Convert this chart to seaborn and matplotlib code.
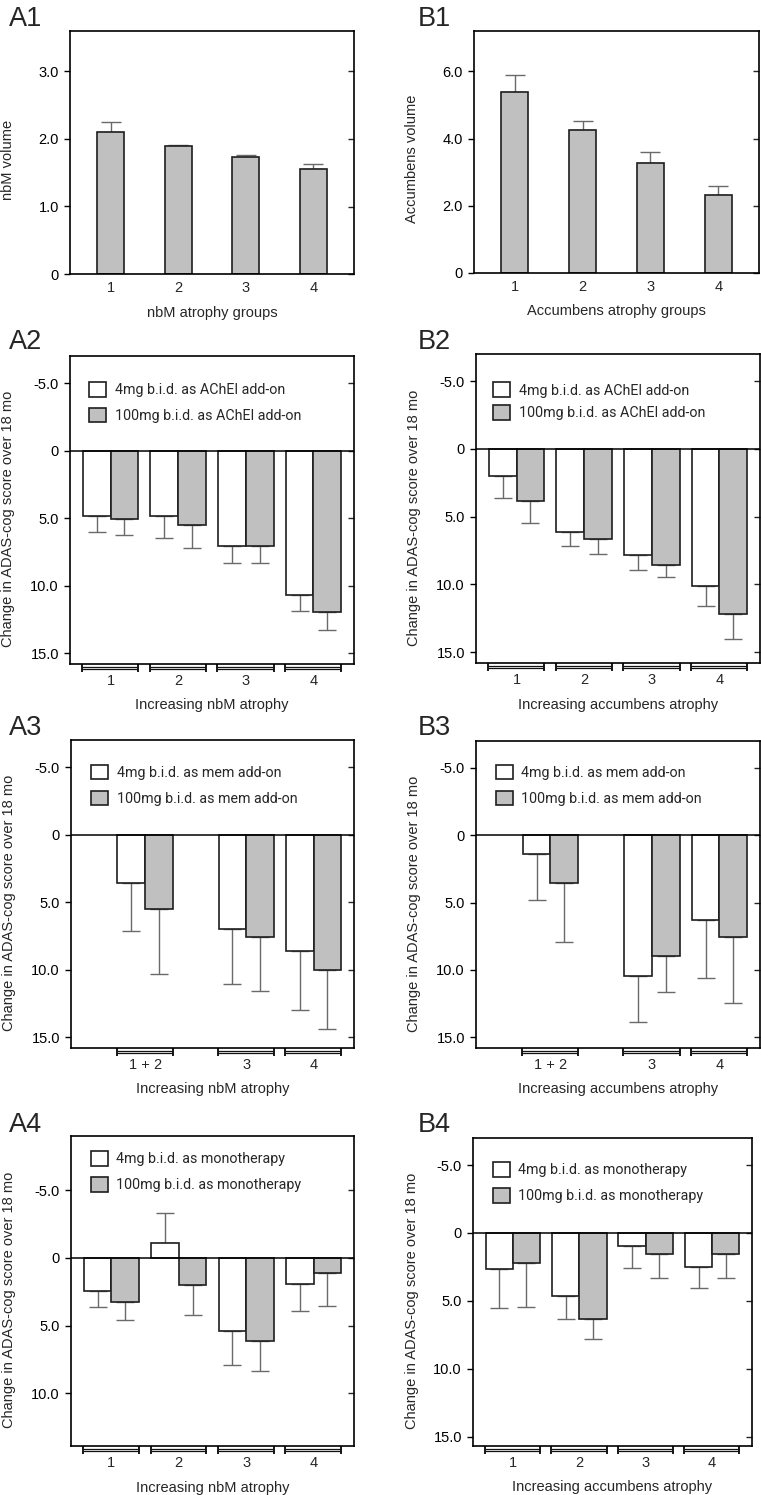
import numpy as np
import pandas as pd
import matplotlib
matplotlib.use("Agg")
import matplotlib.pyplot as plt
import seaborn as sns
from matplotlib.transforms import ScaledTranslation
from matplotlib.patches import Patch

sns.set_style("white")
plt.rcParams['font.family'] = ['Liberation Sans', 'DejaVu Sans']

# ---------------- data ----------------
vol_groups = ["1", "2", "3", "4"]
nbm_volume = [2.10, 1.89, 1.74, 1.55]
nbm_volume_err = [0.15, 0.02, 0.02, 0.08]
acc_volume = [5.39, 4.24, 3.26, 2.32]
acc_volume_err = [0.49, 0.28, 0.33, 0.27]

groups4 = ["1", "2", "3", "4"]
groups3 = ["1 + 2", "3", "4"]

# A2 / B2 : AChEI add-on
a2_low = [4.81, 4.88, 7.06, 10.68]
a2_low_err = [1.21, 1.58, 1.27, 1.16]
a2_high = [5.05, 5.49, 7.04, 11.94]
a2_high_err = [1.21, 1.74, 1.26, 1.36]
b2_low = [2.02, 6.11, 7.83, 10.12]
b2_low_err = [1.60, 1.08, 1.14, 1.46]
b2_high = [3.84, 6.65, 8.57, 12.19]
b2_high_err = [1.65, 1.08, 0.89, 1.85]

# A3 / B3 : memantine add-on
a3_low = [3.62, 7.02, 8.65]
a3_low_err = [3.50, 4.01, 4.33]
a3_high = [5.54, 7.56, 10.02]
a3_high_err = [4.76, 4.04, 4.41]
b3_low = [1.38, 10.47, 6.33]
b3_low_err = [3.45, 3.37, 4.24]
b3_high = [3.57, 8.97, 7.54]
b3_high_err = [4.34, 2.66, 4.95]

# A4 / B4 : monotherapy
a4_low = [2.46, -1.11, 5.41, 1.94]
a4_low_err = [1.18, 2.21, 2.48, 1.97]
a4_high = [3.24, 1.99, 6.14, 1.11]
a4_high_err = [1.35, 2.24, 2.21, 2.48]
b4_low = [2.65, 4.64, 0.96, 2.53]
b4_low_err = [2.88, 1.67, 1.60, 1.50]
b4_high = [2.24, 6.31, 1.57, 1.55]
b4_high_err = [3.24, 1.53, 1.72, 1.77]

leg_ache = ["4mg b.i.d. as AChEI add-on", "100mg b.i.d. as AChEI add-on"]
leg_mem = ["4mg b.i.d. as mem add-on", "100mg b.i.d. as mem add-on"]
leg_mono = ["4mg b.i.d. as monotherapy", "100mg b.i.d. as monotherapy"]

# ---------------- style ----------------
GRAY = "#c0c0c0"
EDGE = "#1e1e1e"
ERR = "#6a6a6a"
TICK_FS = 10.5
LABEL_FS = 10.5
LEG_FONT = "Roboto"
LEG_FS = 10.3
W, H = 761, 1495

fig = plt.figure(figsize=(W / 100, H / 100), dpi=100)


def px_shift(dy_px):
    return ScaledTranslation(0, -dy_px / 100, fig.dpi_scale_trans)


def add_ax(left, right, top, bottom):
    return fig.add_axes([left / W, 1 - bottom / H, (right - left) / W, (bottom - top) / H])


def style_axes(ax, ylim, yticks, yticklabels, ylabel, xlabel, xpad, xlabel_y):
    ax.set_ylim(*ylim)
    ax.set_yticks(yticks, yticklabels)
    for s in ax.spines.values():
        s.set_visible(True)
        s.set_color("black")
        s.set_linewidth(1.2)
    ax.tick_params(axis="y", direction="out", length=4, width=1, pad=4,
                   labelsize=TICK_FS, left=True, colors="black")
    ax.tick_params(axis="x", length=0, pad=xpad, labelsize=TICK_FS)
    sec = ax.secondary_yaxis("right")
    sec.set_yticks(yticks)
    sec.tick_params(direction="in", length=4, width=1, labelright=False)
    sec.spines["right"].set_visible(False)
    ax.set_ylabel(ylabel, fontsize=LABEL_FS)
    ax.yaxis.set_label_coords(-0.193, 0.47)
    ax.set_xlabel(xlabel, fontsize=LABEL_FS)
    ax.xaxis.set_label_coords(0.5, xlabel_y)


def volume_panel(ax, cats, vals, errs, ylim, yticks, yticklabels, ylabel, xlabel):
    pos = np.arange(1, len(cats) + 1)
    sns.barplot(x=pos, y=vals, native_scale=True, width=0.4, color=GRAY,
                saturation=1, errorbar=None, edgecolor=EDGE, linewidth=1.2, ax=ax)
    patches = sorted(ax.patches, key=lambda p: p.get_x())
    xs = [p.get_x() + p.get_width() / 2 for p in patches]
    ax.errorbar(xs, vals, yerr=[np.zeros(len(vals)), errs], fmt="none",
                ecolor=ERR, elinewidth=1, capsize=7.5, capthick=1, zorder=0.5)
    ax.set_xticks(pos, cats)
    ax.set_xlim(0.4, 4.6)
    style_axes(ax, ylim, yticks, yticklabels, ylabel, xlabel, 5, -0.13)


def paired_panel(ax, cats, pos, low, low_err, high, high_err, labels, ylim, yticks,
                 yticklabels, xlabel, leg_anchor, leg_spacing, xlabel_y=-0.112):
    n = len(cats)
    df = pd.DataFrame({"pos": list(pos) * 2, "val": list(low) + list(high),
                       "dose": [labels[0]] * n + [labels[1]] * n})
    sns.barplot(data=df, x="pos", y="val", hue="dose", hue_order=labels,
                palette=["white", GRAY], native_scale=True, width=0.82,
                errorbar=None, saturation=1, edgecolor=EDGE, linewidth=1.2,
                legend=False, ax=ax)
    for cont, vals, errs in zip(ax.containers, [low, high], [low_err, high_err]):
        ps = sorted(cont.patches, key=lambda p: p.get_x())
        xs = [p.get_x() + p.get_width() / 2 for p in ps]
        lower = [e if v < 0 else 0 for v, e in zip(vals, errs)]
        upper = [e if v >= 0 else 0 for v, e in zip(vals, errs)]
        ax.errorbar(xs, vals, yerr=[lower, upper], fmt="none", ecolor=ERR,
                    elinewidth=1, capsize=6.5, capthick=1, zorder=0.5)
    ax.axhline(0, color="black", lw=1.1, zorder=3)
    ax.set_xticks(pos, cats)
    ax.set_xlim(0.4, 4.6)
    style_axes(ax, ylim, yticks, yticklabels,
               "Change in ADAS-cog score over 18 mo", xlabel, 7.5, xlabel_y)
    # brackets under each group
    tr = ax.get_xaxis_transform()
    for p in pos:
        x0, x1 = p - 0.42, p + 0.41
        for dy in (2.6, 5.0):
            ax.plot([x0, x1], [0, 0], color="#111111", lw=0.9, clip_on=False,
                    solid_capstyle="butt", transform=tr + px_shift(dy))
        for xx in (x0, x1):
            ax.plot([xx, xx], [0, 0], color="#111111", lw=0, clip_on=False,
                    marker="|", markersize=6, markeredgewidth=1.1,
                    transform=tr + px_shift(4.0))
    handles = [Patch(facecolor="white", edgecolor=EDGE, lw=1.2, label=labels[0]),
               Patch(facecolor=GRAY, edgecolor=EDGE, lw=1.2, label=labels[1])]
    ax.legend(handles=handles, loc="upper left", bbox_to_anchor=leg_anchor,
              frameon=False, prop={"family": LEG_FONT, "size": LEG_FS},
              handlelength=1.2, handleheight=1.2, handletextpad=0.6,
              labelspacing=leg_spacing, borderaxespad=0, borderpad=0)


ytk = [-5, 0, 5, 10, 15]
ytl = ["-5.0", "0", "5.0", "10.0", "15.0"]
pos4 = [1, 2, 3, 4]
pos3 = [1.5, 3, 4]

# Row 1
axA1 = add_ax(70, 354, 31, 274)
volume_panel(axA1, vol_groups, nbm_volume, nbm_volume_err, (0, 3.6), [0, 1, 2, 3],
             ["0", "1.0", "2.0", "3.0"], "nbM volume", "nbM atrophy groups")
axB1 = add_ax(474, 759, 31, 273)
volume_panel(axB1, vol_groups, acc_volume, acc_volume_err, (0, 7.2), [0, 2, 4, 6],
             ["0", "2.0", "4.0", "6.0"], "Accumbens volume", "Accumbens atrophy groups")

# Row 2
axA2 = add_ax(70, 354, 356, 664)
paired_panel(axA2, groups4, pos4, a2_low, a2_low_err, a2_high, a2_high_err, leg_ache,
             (15.8, -7), ytk, ytl, "Increasing nbM atrophy", (0.067, 1 - 0.084), 0.75)
axB2 = add_ax(476, 760, 354, 663)
paired_panel(axB2, groups4, pos4, b2_low, b2_low_err, b2_high, b2_high_err, leg_ache,
             (15.8, -7), ytk, ytl, "Increasing accumbens atrophy", (0.06, 1 - 0.092), 0.52)

# Row 3
axA3 = add_ax(71, 354, 740, 1048)
paired_panel(axA3, groups3, pos3, a3_low, a3_low_err, a3_high, a3_high_err, leg_mem,
             (15.8, -7), ytk, ytl, "Increasing nbM atrophy", (0.07, 1 - 0.08), 0.75)
axB3 = add_ax(476, 760, 741, 1048)
paired_panel(axB3, groups3, pos3, b3_low, b3_low_err, b3_high, b3_high_err, leg_mem,
             (15.8, -7), ytk, ytl, "Increasing accumbens atrophy", (0.069, 1 - 0.077), 0.75)

# Row 4
axA4 = add_ax(71, 354, 1136, 1446)
paired_panel(axA4, groups4, pos4, a4_low, a4_low_err, a4_high, a4_high_err, leg_mono,
             (13.9, -9), [-5, 0, 5, 10], ["-5.0", "0", "5.0", "10.0"],
             "Increasing nbM atrophy", (0.069, 1 - 0.049), 0.75)
axB4 = add_ax(473, 752, 1138, 1446)
paired_panel(axB4, groups4, pos4, b4_low, b4_low_err, b4_high, b4_high_err, leg_mono,
             (15.7, -7), ytk, ytl, "Increasing accumbens atrophy", (0.07, 1 - 0.078), 0.75)

# panel letters
for txt, x, y in [("A1", 9, 8), ("B1", 418, 8), ("A2", 9, 331), ("B2", 418, 331),
                  ("A3", 9, 717), ("B3", 418, 717), ("A4", 9, 1114), ("B4", 418, 1114)]:
    fig.text(x / W, 1 - (y - 2) / H, txt, fontsize=19.5, ha="left", va="top")

fig.savefig("out.png", dpi=100)
